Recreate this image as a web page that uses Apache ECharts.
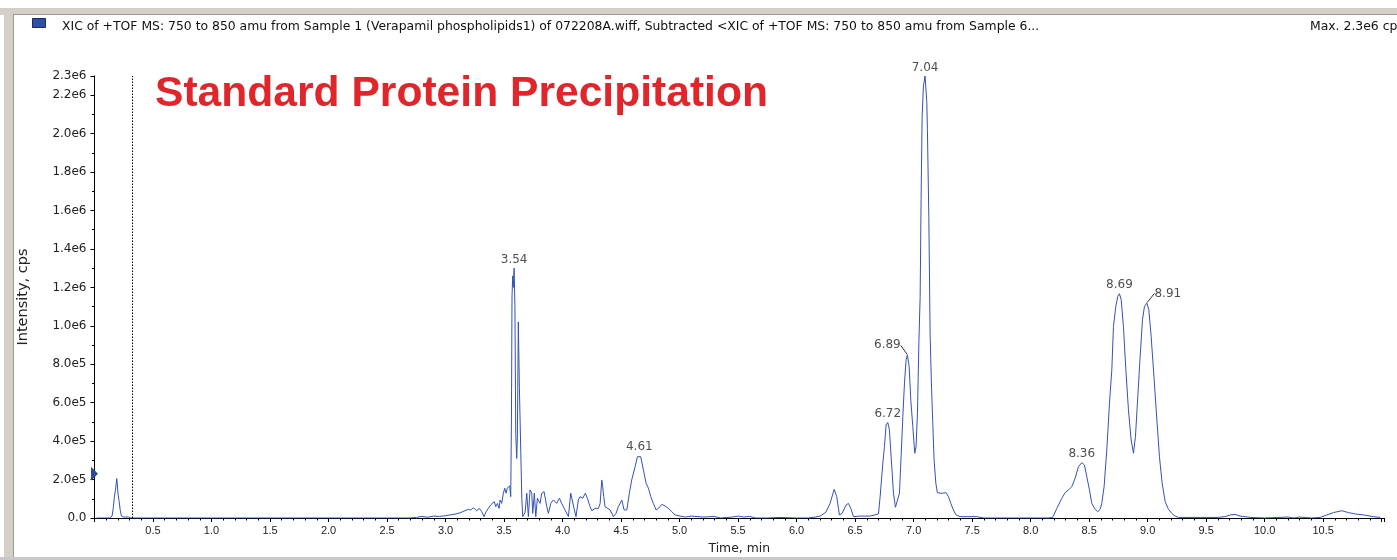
<!DOCTYPE html>
<html>
<head>
<meta charset="utf-8">
<script src="https://cdn.jsdelivr.net/npm/echarts@6/dist/echarts.min.js"></script>
<style>
html,body{margin:0;padding:0;background:#fff;}
#chart{width:1397px;height:560px;}
</style>
</head>
<body>
<div id="chart"></div>
<script>
// Retention time (min)
const times = [
0.02,0.13,0.15,0.16,0.17,0.18,0.19,0.195,0.20,0.21,0.22,0.23,0.25,0.29,0.31,
2.69,2.70,2.75,2.80,2.85,2.90,2.95,3.00,3.038,3.081,3.124,3.167,3.195,3.215,3.238,3.266,3.289,3.309,3.329,3.346,3.366,3.386,3.403,3.417,3.429,3.443,3.458,3.466,3.480,3.494,3.506,3.517,3.528,3.540,3.548,3.557,3.563,
3.568,3.574,3.579,3.586,3.593,3.600,3.608,3.614,3.622,3.631,3.643,3.652,3.660,3.680,
3.694,3.708,3.722,3.737,3.745,3.759,3.771,3.785,3.808,3.822,3.842,3.865,3.879,3.899,3.922,3.950,3.973,3.993,4.021,4.050,4.070,4.087,4.101,4.115,4.135,4.150,4.172,4.195,4.212,4.235,4.250,4.278,4.306,4.321,4.335,4.343,4.352,4.363,4.378,4.406,4.434,4.457,4.477,4.506,4.526,4.549,4.571,4.591,4.620,4.640,4.656,4.668,4.691,4.714,4.734,4.754,4.776,4.799,4.819,4.848,4.876,4.904,4.933,4.962,5.004,
5.05,5.10,5.20,5.30,5.35,5.45,5.50,5.55,5.60,5.65,5.75,5.85,6.00,6.10,6.16,
6.201,6.25,6.286,6.321,6.343,6.366,6.389,6.423,6.443,6.463,6.486,6.543,6.628,6.700,6.714,6.737,6.751,6.765,6.779,6.793,6.808,6.828,6.845,6.862,6.879,6.893,6.908,6.922,6.936,6.947,6.962,6.976,6.993,7.010,7.021,7.033,7.045,7.056,7.064,7.073,7.084,7.098,7.107,7.113,7.118,7.130,7.141,7.152,7.164,7.175,7.190,7.203,7.226,7.250,7.278,7.298,7.318,7.340,7.363,7.397,7.540,7.60,
8.15,8.189,8.224,8.267,8.295,8.323,8.352,8.380,8.409,8.437,8.460,8.480,8.503,8.523,8.551,8.574,8.594,8.608,8.628,8.651,8.674,8.694,8.708,8.728,8.745,8.759,8.774,8.793,8.814,8.836,8.859,8.879,8.896,8.916,8.936,8.956,8.973,8.993,9.010,9.030,9.056,9.079,9.101,9.124,9.150,9.178,9.207,9.235,9.263,9.449,9.60,9.662,9.705,9.748,9.790,9.876,10.00,10.20,10.25,10.30,10.40,10.474,10.532,10.588,10.660,10.716,10.774,10.845,10.930,10.987
];
// Intensity in units of 1e5 cps
const intensity = [
0.0,0.0,0.1,0.5,1.1,1.5,2.05,1.8,1.3,0.9,0.4,0.1,0.05,0.05,0.0,
0.0,0.05,0.03,0.08,0.04,0.10,0.08,0.12,0.16,0.20,0.27,0.38,0.45,0.42,0.53,0.38,0.50,0.33,0.07,0.33,0.50,0.68,0.59,0.85,0.59,0.76,0.50,0.94,0.76,1.29,1.55,1.29,1.55,1.46,1.68,1.11,5.0,
11.5,12.6,12.0,13.0,11.0,4.4,3.1,4.2,10.2,6.8,3.4,1.0,0.07,0.3,
1.29,0.07,1.46,1.29,0.24,1.29,0.07,1.03,0.76,1.29,1.37,0.59,0.24,0.76,0.94,0.76,1.03,0.76,0.42,0.07,1.29,1.20,0.42,0.07,0.94,1.11,1.03,1.29,1.03,0.59,0.38,0.50,0.50,0.76,1.98,1.63,1.11,0.59,0.50,0.42,0.07,0.24,0.59,0.94,0.42,0.42,1.29,1.98,2.67,3.19,3.28,3.19,2.50,1.81,1.55,1.11,0.76,0.42,0.50,0.71,0.63,0.50,0.33,0.16,0.10,
0.05,0.10,0.05,0.08,0.0,0.05,0.10,0.05,0.08,0.0,0.0,0.03,0.0,0.0,0.05,
0.10,0.30,0.76,1.49,1.11,0.16,0.24,0.68,0.76,0.50,0.07,0.10,0.10,0.21,1.11,2.85,3.72,4.85,4.97,4.59,3.19,1.29,0.56,0.56,1.29,3.19,5.28,7.02,8.23,8.49,7.89,6.15,4.76,3.37,3.72,5.45,9.10,11.53,16.57,20.91,22.48,23.0,22.91,21.61,20.22,15.70,9.62,7.02,4.93,3.02,1.81,1.32,1.29,1.29,1.32,1.11,0.76,0.42,0.16,0.07,0.07,0.0,
0.0,0.03,0.50,1.03,1.32,1.46,1.63,2.07,2.67,2.88,2.76,2.15,1.46,0.76,0.45,0.33,0.45,0.76,1.63,3.54,5.98,7.71,9.97,11.01,11.53,11.67,11.36,9.97,7.71,5.63,4.06,3.37,4.24,6.32,8.41,10.32,11.01,11.19,10.84,9.45,7.19,5.11,3.19,1.81,0.85,0.45,0.24,0.10,0.03,0.03,0.03,0.07,0.16,0.19,0.10,0.03,0.0,0.05,0.0,0.05,0.0,0.03,0.16,0.28,0.38,0.28,0.21,0.16,0.07,0.03
];
// Labelled peaks
const peakTimes = [3.586, 4.656, 6.779, 6.947, 7.098, 8.437, 8.759, 8.993];
const peakValues = [13.0, 3.28, 4.97, 8.49, 23.0, 2.88, 11.67, 11.19];
const peakLabels = ['3.54', '4.61', '6.72', '6.89', '7.04', '8.36', '8.69', '8.91'];
const peakShift = [[0,0],[0,0],[0,0],[-20,-1],[0,0],[0,0],[0,0],[21,-1]];
const dottedLineTime = 0.32;
const markerLevel = 2.3;

const headerText = 'XIC of +TOF MS: 750 to 850 amu from Sample 1 (Verapamil phospholipids1) of 072208A.wiff, Subtracted <XIC of +TOF MS: 750 to 850 amu from Sample 6...';
const maxText = 'Max. 2.3e6 cps';
const titleText = 'Standard Protein Precipitation';

const lineData = times.map((t, i) => [t, intensity[i]]);
const peakData = peakTimes.map((t, i) => {
  const moved = peakShift[i][0] !== 0;
  return {
    value: [t, peakValues[i]],
    name: peakLabels[i],
    labelLine: { show: moved, lineStyle: { color: '#333', width: 1 } }
  };
});

function yFmt(v) {
  if (v === 0) return '0.0';
  const cps = v * 1e5;
  const e = Math.floor(Math.log10(cps) + 1e-9);
  const m = cps / Math.pow(10, e);
  return m.toFixed(1) + 'e' + e;
}

const chart = echarts.init(document.getElementById('chart'), null, {renderer: 'canvas'});
const FONT = '"Liberation Sans", Arial, sans-serif';
const WFONT = '"DejaVu Sans", Verdana, sans-serif';
chart.setOption({
  animation: false,
  backgroundColor: '#ffffff',
  grid: { left: 94.5, right: 13, top: 76, bottom: 42, containLabel: false },
  xAxis: {
    type: 'value', min: 0, max: 11.02, interval: 0.5,
    name: 'Time, min', nameLocation: 'middle', nameGap: 25,
    nameTextStyle: { color: '#222', fontSize: 12.4, fontFamily: WFONT },
    axisLine: { show: true, onZero: false, lineStyle: { color: '#000', width: 1 } },
    axisTick: { show: true, length: 4, lineStyle: { color: '#000' } },
    minorTick: { show: true, splitNumber: 5, length: 2.5, lineStyle: { color: '#000' } },
    splitLine: { show: false },
    axisLabel: {
      color: '#222', fontSize: 11, fontFamily: FONT, margin: 7,
      showMinLabel: false, showMaxLabel: false,
      formatter: v => (v <= 0 || v > 10.9) ? '' : v.toFixed(1)
    }
  },
  yAxis: {
    type: 'value', min: 0, max: 23, interval: 2,
    name: 'Intensity, cps', nameLocation: 'middle', nameGap: 64, nameRotate: 90,
    nameTextStyle: { color: '#222', fontSize: 14.5, fontFamily: WFONT },
    axisLine: { show: true, lineStyle: { color: '#000', width: 1 } },
    axisTick: { show: true, length: 4, lineStyle: { color: '#000' } },
    minorTick: { show: true, splitNumber: 2, length: 2.5, lineStyle: { color: '#000' } },
    splitLine: { show: false },
    axisLabel: { color: '#222', fontSize: 12, fontFamily: WFONT, margin: 8, formatter: yFmt, showMaxLabel: true }
  },
  series: [
    {
      type: 'line', data: lineData, showSymbol: false, symbol: 'none',
      lineStyle: { color: '#3352b5', width: 1 },
      itemStyle: { color: '#3352b5' },
      silent: true,
      markLine: {
        silent: true, symbol: ['none', 'none'], animation: false,
        label: { show: false },
        lineStyle: { color: '#000', type: [1.5, 1.5], width: 1 },
        data: [{ xAxis: dottedLineTime }]
      },
      markPoint: {
        silent: true, animation: false,
        data: [{ coord: [0, markerLevel], symbol: 'triangle', symbolRotate: -90, symbolSize: [14, 7], symbolOffset: [0, 0],
          itemStyle: { color: '#2b4a9e' }, label: { show: false } }]
      }
    },
    {
      type: 'scatter', data: peakData, symbolSize: 1, clip: false,
      itemStyle: { color: 'rgba(0,0,0,0)' }, silent: true,
      label: {
        show: true, position: 'top', distance: 2,
        color: '#222', fontSize: 12, fontFamily: WFONT,
        formatter: p => p.name
      },
      labelLayout: function (params) {
        const s = peakShift[params.dataIndex];
        return { dx: s[0], dy: s[1] };
      }
    }
  ],
  graphic: [
    { type: 'rect', shape: { x: 0, y: 8, width: 1397, height: 7 }, style: { fill: '#d4d0c8' }, silent: true },
    { type: 'rect', shape: { x: 4, y: 8, width: 10, height: 552 }, style: { fill: '#d4d0c8' }, silent: true },
    { type: 'line', shape: { x1: 13.5, y1: 14, x2: 13.5, y2: 560 }, style: { stroke: '#9a978f', lineWidth: 1 }, silent: true },
    { type: 'line', shape: { x1: 13.5, y1: 14.5, x2: 1397, y2: 14.5 }, style: { stroke: '#9a978f', lineWidth: 1 }, silent: true },
    { type: 'rect', shape: { x: 0, y: 557, width: 1397, height: 3 }, style: { fill: '#c8c8c8' }, silent: true },
    { type: 'rect', shape: { x: 32.5, y: 18.5, width: 13, height: 9 }, style: { fill: '#2d4fa8', stroke: '#1b2b66', lineWidth: 1 }, silent: true },
    { type: 'text', x: 62, y: 27, style: { text: headerText, fill: '#111', font: '12.4px ' + WFONT, textVerticalAlign: 'middle' }, silent: true },
    { type: 'text', x: 1310, y: 27, style: { text: maxText, fill: '#111', font: '12.4px ' + WFONT, textVerticalAlign: 'middle' }, silent: true },
    { type: 'text', x: 155, y: 94, style: { text: titleText, fill: '#e1262b', font: 'bold 42.6px ' + FONT, textVerticalAlign: 'middle' }, silent: true }
  ]
});
</script>
</body>
</html>
